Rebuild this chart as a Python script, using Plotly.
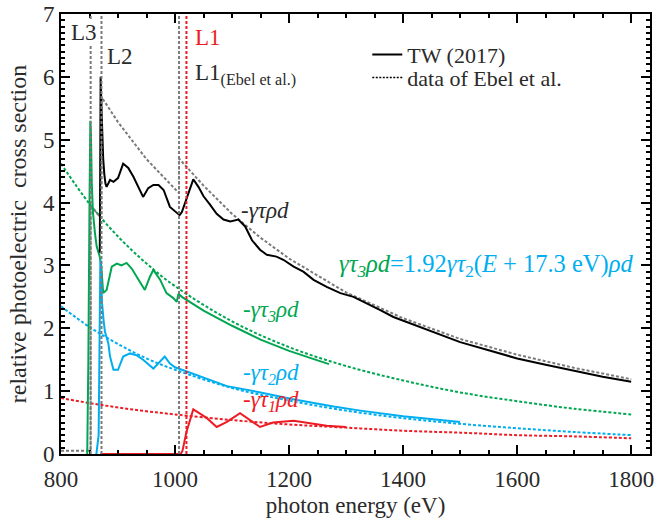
import plotly.graph_objects as go

# ---------------- data ----------------
# TW (2017) total  -γτρd
E_total = [868, 869.5, 871, 872.5, 874, 876, 878, 880, 886, 892, 900, 909, 918, 927, 936, 944, 953, 962,
           971, 980, 991, 1003, 1008, 1012, 1020, 1032, 1041, 1050, 1061, 1073, 1085, 1097, 1111, 1123,
           1135, 1149, 1161, 1178, 1190, 1208, 1225, 1243, 1266, 1290, 1313, 1336, 1360, 1383, 1412,
           1442, 1500, 1550, 1600, 1650, 1700, 1750, 1800]
tw_total = [3.2, 6.0, 5.5, 5.0, 4.7, 4.45, 4.3, 4.25, 4.36, 4.33, 4.39, 4.62, 4.55, 4.41, 4.25, 4.09, 4.23,
            4.28, 4.28, 4.2, 3.93, 3.83, 3.80, 3.85, 4.05, 4.37, 4.25, 4.1, 3.97, 3.82, 3.73, 3.70, 3.73,
            3.62, 3.40, 3.25, 3.17, 3.14, 3.09, 2.98, 2.90, 2.77, 2.66, 2.56, 2.50, 2.40, 2.29, 2.18, 2.08,
            1.97, 1.78, 1.65, 1.52, 1.42, 1.32, 1.23, 1.15]

# TW (2017) subshell contributions
E_tau3 = [846, 848, 850, 851.5, 852.5, 854, 856, 859.6, 862.6, 868, 870.5, 874, 880, 889, 898, 906, 915,
          924, 939, 947, 956, 962, 974, 985, 997, 1003, 1006, 1012, 1050, 1100, 1150, 1200, 1250, 1270]
tw_tau3 = [0, 1.5, 4.0, 5.3, 5.1, 4.3, 3.85, 3.51, 3.30, 3.14, 3.0, 2.56, 2.61, 2.98, 3.03, 3.0, 3.04,
           2.95, 2.74, 2.61, 2.82, 2.93, 2.77, 2.56, 2.48, 2.42, 2.55, 2.50, 2.28, 2.04, 1.82, 1.64, 1.49, 1.43]

E_tau2 = [862, 866, 869, 870.5, 872, 875, 877, 883, 886, 892, 900, 909, 921, 933, 944, 962, 974, 982, 991,
          1000, 1006, 1050, 1091, 1150, 1207, 1278, 1325, 1400, 1500]
tw_tau2 = [0, 0.3, 3.09, 2.8, 2.4, 2.1, 1.95, 1.76, 1.55, 1.34, 1.34, 1.55, 1.60, 1.57, 1.50, 1.36, 1.47,
           1.55, 1.44, 1.38, 1.36, 1.22, 1.08, 0.98, 0.87, 0.755, 0.69, 0.60, 0.51]

E_tau1 = [869, 1010, 1013, 1020, 1032, 1056, 1073, 1091, 1114, 1132, 1149, 1172, 1208, 1237, 1266, 1300]
tw_tau1 = [0, 0, 0.05, 0.35, 0.71, 0.57, 0.43, 0.51, 0.65, 0.54, 0.43, 0.50, 0.53, 0.49, 0.45, 0.43]

# data of Ebel et al.
E_ebel_total = [800, 851.9, 852, 870.9, 871, 900, 950, 1006.9, 1007, 1050, 1100, 1150, 1200, 1300, 1400,
                1500, 1600, 1700, 1800]
ebel_total = [0.05, 0.05, 3.95, 3.75, 5.68, 5.28, 4.69, 4.15, 4.70, 4.27, 3.82, 3.44, 3.11, 2.57, 2.16,
              1.83, 1.58, 1.37, 1.19]

E_ebel = [800, 850, 900, 950, 1000, 1100, 1200, 1300, 1400, 1500, 1600, 1700, 1800]
ebel_tau3 = [4.62, 3.98, 3.46, 3.03, 2.67, 2.11, 1.70, 1.40, 1.17, 0.98, 0.84, 0.72, 0.63]
ebel_tau2 = [2.35, 2.02, 1.75, 1.52, 1.34, 1.05, 0.85, 0.69, 0.57, 0.48, 0.41, 0.35, 0.30]
ebel_tau1 = [0.89, 0.81, 0.74, 0.68, 0.63, 0.54, 0.47, 0.42, 0.37, 0.34, 0.30, 0.28, 0.25]

# absorption edges (eV)
edge_names = ["L3", "L2", "L1(Ebel)", "L1"]
edge_E = [852, 871, 1007, 1020]

# ---------------- styling ----------------
FONT = "Liberation Serif"
GREEN = "#00A651"
CYAN = "#00AEEF"
RED = "#ED1C24"
GREY = "#7a7a7a"
TXT = "#2a2a2a"
DASH = "3px,2px"

fig = go.Figure()

# Ebel dashed curves
fig.add_trace(go.Scatter(x=E_ebel, y=ebel_tau3, mode="lines", line=dict(color=GREEN, width=2, dash=DASH, shape="spline"), showlegend=False))
fig.add_trace(go.Scatter(x=E_ebel, y=ebel_tau2, mode="lines", line=dict(color=CYAN, width=2, dash=DASH, shape="spline"), showlegend=False))
fig.add_trace(go.Scatter(x=E_ebel, y=ebel_tau1, mode="lines", line=dict(color=RED, width=2, dash=DASH, shape="spline"), showlegend=False))
fig.add_trace(go.Scatter(x=E_ebel_total, y=ebel_total, mode="lines", line=dict(color=GREY, width=2, dash=DASH), showlegend=False))

# TW solid curves
fig.add_trace(go.Scatter(x=E_tau3, y=tw_tau3, mode="lines", line=dict(color=GREEN, width=2), showlegend=False))
fig.add_trace(go.Scatter(x=E_tau2, y=tw_tau2, mode="lines", line=dict(color=CYAN, width=2), showlegend=False))
fig.add_trace(go.Scatter(x=E_tau1, y=tw_tau1, mode="lines", line=dict(color=RED, width=2), showlegend=False))
fig.add_trace(go.Scatter(x=E_total, y=tw_total, mode="lines", line=dict(color="black", width=2), showlegend=False))

# legend entries (two legends so the row spacing can match)
fig.add_trace(go.Scatter(x=[None], y=[None], mode="lines", line=dict(color="black", width=2),
                         name="TW (2017)", legend="legend"))
fig.add_trace(go.Scatter(x=[None], y=[None], mode="lines", line=dict(color="black", width=1.5, dash="2px,1.5px"),
                         name="data of Ebel et al.", legend="legend2"))

# edge lines
for name, e in zip(edge_names, edge_E):
    col = RED if name == "L1" else GREY
    fig.add_shape(type="line", x0=e, x1=e, y0=0, y1=1, xref="x", yref="paper",
                  line=dict(color=col, width=2, dash=DASH), layer="above")

annotations = [
    dict(x=815, y=6.70, text="L3", font=dict(family=FONT, size=23, color=TXT), bgcolor="white", borderpad=0),
    dict(x=877, y=6.32, text="L2", font=dict(family=FONT, size=23, color=TXT)),
    dict(x=1031, y=6.63, text="L1", font=dict(family=FONT, size=23, color=RED)),
    dict(x=1031, y=6.04, text="L1<sub>(Ebel et al.)</sub>", font=dict(family=FONT, size=23, color=TXT)),
    dict(x=1113, y=3.88, text="<i>-γτρd</i>", font=dict(family=FONT, size=23, color=TXT)),
    dict(x=1284, y=3.0,
         text='<span style="color:%s"><i>γτ<sub>3</sub>ρd</i></span>=1.92<i>γτ</i><sub>2</sub>(<i>E</i> + 17.3 eV)<i>ρd</i>' % GREEN,
         font=dict(family=FONT, size=24.5, color=CYAN)),
    dict(x=1116, y=2.27, text="<i>-γτ<sub>3</sub>ρd</i>", font=dict(family=FONT, size=23, color=GREEN)),
    dict(x=1116, y=1.27, text="<i>-γτ<sub>2</sub>ρd</i>", font=dict(family=FONT, size=23, color=CYAN)),
    dict(x=1116, y=0.85, text="<i>-γτ<sub>1</sub>ρd</i>", font=dict(family=FONT, size=23, color=RED)),
]
for a in annotations:
    fig.add_annotation(xref="x", yref="y", xanchor="left", yanchor="middle", showarrow=False, **a)

axis_common = dict(
    showline=True, linecolor="black", linewidth=2, mirror="allticks",
    ticks="inside", ticklen=9, tickwidth=2, tickcolor="black",
    showgrid=False, zeroline=False,
    tickfont=dict(family=FONT, size=23, color=TXT),
)

fig.update_xaxes(range=[800, 1833], tickvals=[800, 1000, 1200, 1400, 1600, 1800],
                 minor=dict(dtick=50, tick0=800, ticks="inside", ticklen=4, tickwidth=2, tickcolor="black"),
                 ticklabelstandoff=3,
                 title_text="photon energy (eV)", title_standoff=6,
                 title_font=dict(family=FONT, size=23, color=TXT), **axis_common)
fig.update_yaxes(range=[0, 7], dtick=1,
                 minor=dict(dtick=0.1, ticks="inside", ticklen=4, tickwidth=1.5, tickcolor="black"),
                 title_text="relative photoelectric\u00a0 cross section", title_standoff=10,
                 title_font=dict(family=FONT, size=24, color=TXT), **axis_common)

legend_common = dict(xanchor="left", yanchor="top", bgcolor="rgba(0,0,0,0)",
                     font=dict(family=FONT, size=22, color=TXT), borderwidth=0)
fig.update_layout(
    width=657, height=522,
    margin=dict(l=61, r=7, t=14, b=68, autoexpand=False),
    paper_bgcolor="white", plot_bgcolor="white",
    font=dict(family=FONT, size=23, color=TXT),
    legend=dict(x=0.52, y=0.955, **legend_common),
    legend2=dict(x=0.52, y=0.903, **legend_common),
    showlegend=True,
)

fig.write_html("out.html")
